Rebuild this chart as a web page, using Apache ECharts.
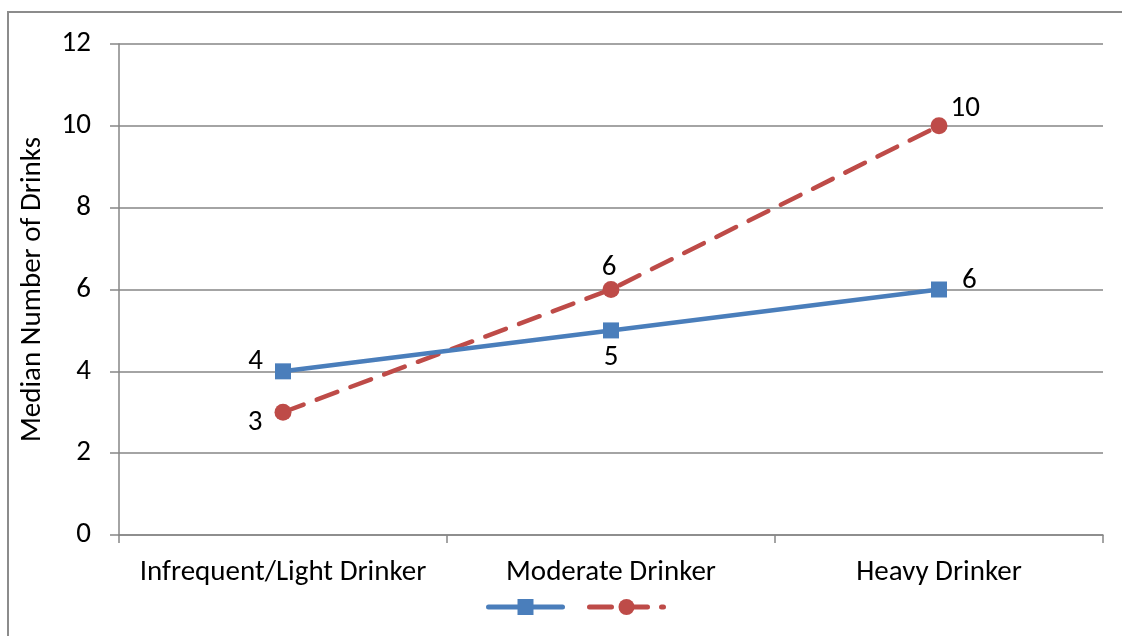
<!DOCTYPE html>
<html>
<head>
<meta charset="utf-8">
<style>
  html, body { margin: 0; padding: 0; background: #ffffff; }
  #chart { width: 1122px; height: 636px; }
</style>
<script src="https://cdn.jsdelivr.net/npm/echarts@6/dist/echarts.min.js"></script>
</head>
<body>
<div id="chart"></div>
<script>
// Drinking groups along the horizontal axis
const categories = ['Infrequent/Light Drinker', 'Moderate Drinker', 'Heavy Drinker'];
// Median drinks, two measures per group
const seriesA = [4, 5, 6];
const seriesB = [3, 6, 10];
const yTicks = [0, 2, 4, 6, 8, 10, 12];

const FONT = 'Carlito, Lato, sans-serif';
const BLUE = '#4A7EBB';
const RED = '#BE4B48';
const GRID = '#868686';
const FS = 29;

// Per-point label placement around the markers
const labelsA = [
  { position: 'left', distance: 12, offset: [0, -10] },
  { position: 'bottom', distance: 5, offset: [0, 0] },
  { position: 'right', distance: 15, offset: [0, -9] }
];
const labelsB = [
  { position: 'left', distance: 12, offset: [0, 10] },
  { position: 'top', distance: 2, offset: [-2, 3] },
  { position: 'right', distance: 3, offset: [0, -17] }
];

function withLabels(values, labels) {
  return values.map((v, i) => ({
    value: v,
    label: Object.assign({ show: true }, labels[i])
  }));
}

const chart = echarts.init(document.getElementById('chart'), null, { renderer: 'canvas' });

chart.setOption({
  animation: false,
  backgroundColor: '#ffffff',
  textStyle: { fontFamily: FONT },
  graphic: [{
    type: 'rect',
    shape: { x: 8, y: 12, width: 1300, height: 800 },
    style: { fill: null, stroke: '#8c8c8c', lineWidth: 2 },
    silent: true,
    z: -1
  }],
  grid: { left: 119, right: 19, top: 44, bottom: 101, containLabel: false },
  legend: {
    bottom: 16,
    left: 481,
    itemWidth: 74,
    itemHeight: 20,
    itemGap: 22,
    formatter: () => '',
    lineStyle: { width: 5, cap: 'round' },
    data: ['A', 'B']
  },
  xAxis: {
    type: 'category',
    data: categories,
    boundaryGap: true,
    axisLine: { lineStyle: { color: GRID, width: 1.5 } },
    axisTick: { show: true, length: 8, interval: 0, lineStyle: { color: GRID, width: 1.5 } },
    axisLabel: { color: '#000', fontSize: FS, fontFamily: FONT, margin: 23, interval: 0 }
  },
  yAxis: {
    type: 'value',
    min: yTicks[0],
    max: yTicks[yTicks.length - 1],
    interval: 2,
    name: 'Median Number of Drinks',
    nameLocation: 'middle',
    nameGap: 72,
    nameRotate: 90,
    nameTextStyle: { color: '#000', fontSize: FS, fontFamily: FONT },
    axisLine: { show: true, lineStyle: { color: GRID, width: 1.5 } },
    axisTick: { show: true, length: 9, lineStyle: { color: GRID, width: 1.5 } },
    splitLine: { lineStyle: { color: GRID, width: 1.5 } },
    axisLabel: { color: '#000', fontSize: FS, fontFamily: FONT, margin: 28 }
  },
  series: [
    {
      name: 'A',
      type: 'line',
      data: withLabels(seriesA, labelsA),
      symbol: 'rect',
      symbolSize: 16,
      color: BLUE,
      itemStyle: { color: BLUE },
      lineStyle: { color: BLUE, width: 4.5 },
      label: { color: '#000', fontSize: FS, fontFamily: FONT },
      z: 3
    },
    {
      name: 'B',
      type: 'line',
      data: withLabels(seriesB, labelsB),
      symbol: 'circle',
      symbolSize: 17,
      color: RED,
      itemStyle: { color: RED },
      lineStyle: { color: RED, width: 4.5, type: [22, 14], cap: 'round' },
      label: { color: '#000', fontSize: FS, fontFamily: FONT },
      z: 2
    }
  ]
});
</script>
</body>
</html>
